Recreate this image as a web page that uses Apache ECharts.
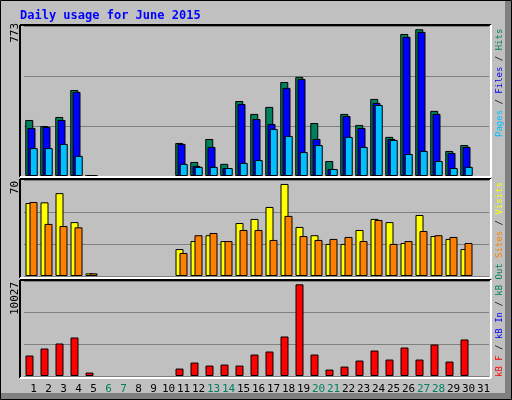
<!DOCTYPE html>
<html><head><meta charset="utf-8">
<script src="https://cdn.jsdelivr.net/npm/echarts@6/dist/echarts.min.js"></script>
<style>html,body{margin:0;padding:0;background:#c0c0c0}#c{width:512px;height:400px}</style>
</head><body><div id="c"></div>
<script>
var days = ['1','2','3','4','5','6','7','8','9','10','11','12','13','14','15','16','17','18','19','20','21','22','23','24','25','26','27','28','29','30','31'];
var weekend = ['6','7','13','14','20','21','27','28'];
var hits  = [295,263,311,453,2,null,null,null,null,null,174,74,195,64,395,327,364,495,522,279,79,327,269,406,206,748,773,343,132,163,null];
var files = [253,259,295,443,2,null,null,null,null,null,169,53,153,42,379,300,274,464,511,195,37,316,253,385,195,733,759,327,121,153,null];
var pages = [147,147,169,106,1,null,null,null,null,null,64,48,48,42,69,84,248,211,126,163,37,206,153,374,190,116,132,79,42,48,null];
var visits= [55.5,56,63,41,2,null,null,null,null,null,20.5,26.6,31,26.6,40.3,43.4,52.5,70,37.3,31,24.4,24.4,35,43.4,41,25.1,46.4,30.4,28.2,20.5,null];
var sites = [56.3,39.6,38,37,2,null,null,null,null,null,17.5,31,32.7,26.6,35,35,27.4,45.7,30.4,27.4,28.2,29.7,26.6,42.6,24.4,26.6,34.2,31,29.7,25.1,null];
var kbF   = [2238,3006,3554,4212,373,null,null,null,null,null,812,1470,1141,1251,1141,2348,2677,4322,10027,2348,702,1031,1690,2786,1799,3116,1799,3445,1580,3993,null];
var maxLabels = ['773','70','10027'];

var mono = 'DejaVu Sans Mono';
var chart = echarts.init(document.getElementById('c'));
var grids = [
  {left:24, width:465, top:26, height:150},
  {left:24, width:465, top:180, height:96},
  {left:24, width:465, top:281, height:95}
];
var ymax = [790, 73, 10390];
function yAx(i){return {gridIndex:i,type:'value',min:0,max:ymax[i],interval:ymax[i]/3,
  axisLabel:{show:false},axisLine:{show:false},axisTick:{show:false},
  splitLine:{show:true,lineStyle:{color:'#808080',width:1}}};}
function xAx(i){return {gridIndex:i,type:'category',data:days,
  axisLine:{show:false},axisTick:{show:false},splitLine:{show:false},
  axisLabel: i<2 ? {show:false} : {show:true,margin:8,fontFamily:mono,fontSize:11,interval:0,
     formatter:function(v){return weekend.indexOf(v)>=0?'{w|'+v+'}':'{d|'+v+'}';},
     rich:{w:{color:'#00805c',fontFamily:mono,fontSize:11,padding:[0,0,0,4]},d:{color:'#000',fontFamily:mono,fontSize:11,padding:[0,0,0,4]}}}};}
function bar(name,i,data,color,gap,w){return {name:name,type:'bar',xAxisIndex:i,yAxisIndex:i,data:data,
  barWidth:w||8,barGap:gap,barCategoryGap:0,animation:false,
  itemStyle:{color:color,borderColor:'#000',borderWidth:1}};}
function panel(y,h){return [
  {type:'line',shape:{x1:20,y1:y,x2:491,y2:y},style:{stroke:'#000',lineWidth:2},z:100},
  {type:'line',shape:{x1:20,y1:y,x2:20,y2:y+h},style:{stroke:'#000',lineWidth:2},z:100},
  {type:'line',shape:{x1:491,y1:y,x2:491,y2:y+h},style:{stroke:'#fff',lineWidth:2},z:100},
  {type:'line',shape:{x1:20,y1:y+h,x2:491,y2:y+h},style:{stroke:'#fff',lineWidth:2},z:100}];}
function vtext(x,y,align,rich,txt){return {type:'text',x:x,y:y,rotation:Math.PI/2,z:100,
  style:{text:txt,align:align,verticalAlign:'middle',font:'9px '+mono,rich:rich,fill:'#000'}};}
var rs = {
  g:{fill:'#00805c',font:'9px '+mono}, b:{fill:'#0000ff',font:'9px '+mono}, c:{fill:'#00c0ff',font:'9px '+mono},
  y:{fill:'#ffff00',font:'9px '+mono}, o:{fill:'#ff8000',font:'9px '+mono}, r:{fill:'#ff0000',font:'9px '+mono},
  k:{fill:'#000',font:'9px '+mono}
};
var graphics = [
  {type:'rect',shape:{x:0.5,y:0.5,width:511,height:399},style:{fill:'none',stroke:'#000',lineWidth:1},z:100},
  {type:'rect',shape:{x:505,y:1,width:6,height:398},style:{fill:'#808080'},z:99},
  {type:'rect',shape:{x:1,y:393,width:510,height:6},style:{fill:'#808080'},z:99},
  {type:'text',x:20,y:16,z:100,style:{text:'Daily usage for June 2015',font:'bold 12px '+mono,fill:'#0000ff',verticalAlign:'middle'}}
].concat(panel(25,152),panel(179,99),panel(280,98),[
  {type:'text',x:15,y:23,rotation:Math.PI/2,z:100,style:{text:maxLabels[0],align:'right',verticalAlign:'middle',font:'11px '+mono,fill:'#000'}},
  {type:'text',x:15,y:181,rotation:Math.PI/2,z:100,style:{text:maxLabels[1],align:'right',verticalAlign:'middle',font:'11px '+mono,fill:'#000'}},
  {type:'text',x:15,y:282,rotation:Math.PI/2,z:100,style:{text:maxLabels[2],align:'right',verticalAlign:'middle',font:'11px '+mono,fill:'#000'}},
  vtext(500,137,'left',rs,'{c|Pages}{k| / }{b|Files}{k| / }{g|Hits}'),
  vtext(500,258,'left',rs,'{o|Sites}{k| / }{y|Visits}'),
  vtext(500,377,'left',rs,'{r|kB F}{k| / }{b|kB In}{k| / }{g|kB Out}')
]);
chart.setOption({
  backgroundColor:'#c0c0c0',
  animation:false,
  grid:grids,
  xAxis:[xAx(0),xAx(1),xAx(2)],
  yAxis:[yAx(0),yAx(1),yAx(2)],
  series:[
    bar('Hits',0,hits,'#00805c','-72%'),
    bar('Files',0,files,'#0000ff','-72%'),
    bar('Pages',0,pages,'#00c0ff','-72%'),
    bar('Visits',1,visits,'#ffff00','-50%'),
    bar('Sites',1,sites,'#ff8000','-50%'),
    bar('kB F',2,kbF,'#ff0000','-50%'),
    bar('pad',2,[],'#ff0000','-50%')
  ],
  graphic:graphics
});
</script></body></html>
